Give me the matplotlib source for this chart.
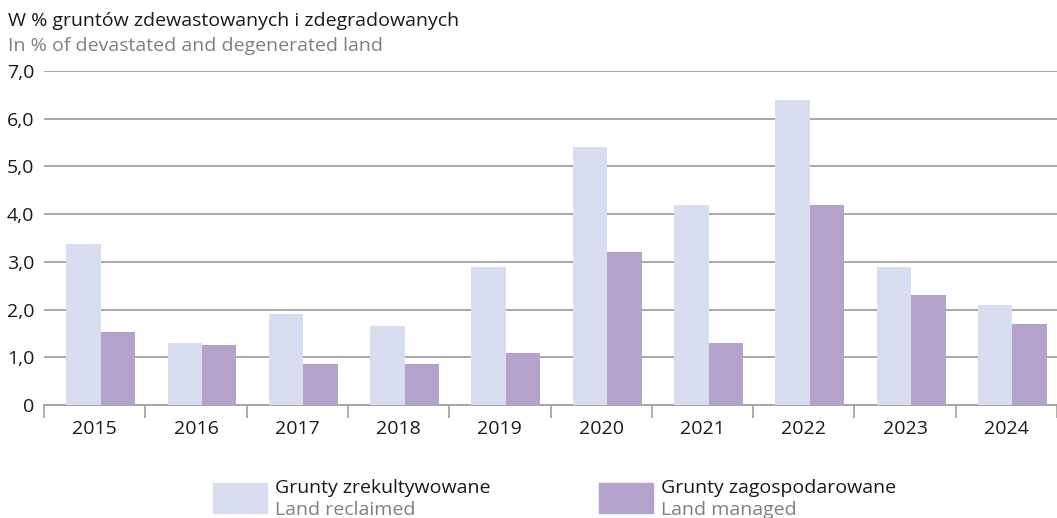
import numpy as np
import matplotlib.pyplot as plt
from matplotlib.patches import Rectangle

plt.rcParams['font.family'] = ['Open Sans', 'DejaVu Sans']

years = ['2015', '2016', '2017', '2018', '2019', '2020', '2021', '2022', '2023', '2024']
reclaimed = [3.38, 1.3, 1.9, 1.65, 2.9, 5.4, 4.2, 6.4, 2.9, 2.1]
managed = [1.52, 1.25, 0.85, 0.85, 1.1, 3.2, 1.3, 4.2, 2.3, 1.7]
yticks = [0, 1, 2, 3, 4, 5, 6, 7]
ytick_labels = ['0', '1,0', '2,0', '3,0', '4,0', '5,0', '6,0', '7,0']

light = '#d9ddf0'
purple = '#b4a2cc'
grid_col = '#a0a0a0'

W, H = 1057, 518
fig = plt.figure(figsize=(W / 100, H / 100), dpi=100)
ax = fig.add_axes([44 / W, 1 - 405 / H, (W - 44) / W, (405 - 71) / H])

x = np.arange(len(years))
bw = 0.34
off = 0.06
ax.bar(x + off - bw / 2, reclaimed, bw, color=light, zorder=3)
ax.bar(x + off + bw / 2, managed, bw, color=purple, zorder=3)

ax.set_ylim(0, 7)
ax.set_xlim(-0.5, 9.43)
ax.set_yticks(yticks)
ax.set_yticklabels(ytick_labels, fontsize=14, color='#1a1a1a')
ax.tick_params(axis='y', length=0, pad=7)
ax.yaxis.grid(True, color=grid_col, linewidth=1.3, zorder=0)

ax.set_xticks(x)
ax.set_xticklabels(years, fontsize=14, color='#1a1a1a')
ax.tick_params(axis='x', which='major', length=0, pad=11)
ax.set_xticks(np.arange(-0.5, 10, 1), minor=True)
ax.tick_params(axis='x', which='minor', length=9, color=grid_col, width=1.2, direction='out')

for s in ['top', 'right', 'left']:
    ax.spines[s].set_visible(False)
ax.spines['bottom'].set_color(grid_col)
ax.spines['bottom'].set_linewidth(1.3)

fig.text(8 / W, 1 - 21 / H, 'W % gruntów zdewastowanych i zdegradowanych',
         fontsize=14, color='#1a1a1a', va='center', ha='left')
fig.text(8 / W, 1 - 46 / H, 'In % of devastated and degenerated land',
         fontsize=14, color='#808080', va='center', ha='left')

legend_items = [
    (213, light, 'Grunty zrekultywowane', 'Land reclaimed'),
    (599, purple, 'Grunty zagospodarowane', 'Land managed'),
]
for lx, col, pl, en in legend_items:
    fig.patches.append(Rectangle((lx / W, 1 - 513 / H), 54 / W, 30 / H,
                                 transform=fig.transFigure, color=col))
    fig.text((lx + 62) / W, 1 - 488 / H, pl, fontsize=14, color='#1a1a1a', va='center')
    fig.text((lx + 62) / W, 1 - 510 / H, en, fontsize=14, color='#808080', va='center')

fig.savefig('out.png', dpi=100)
